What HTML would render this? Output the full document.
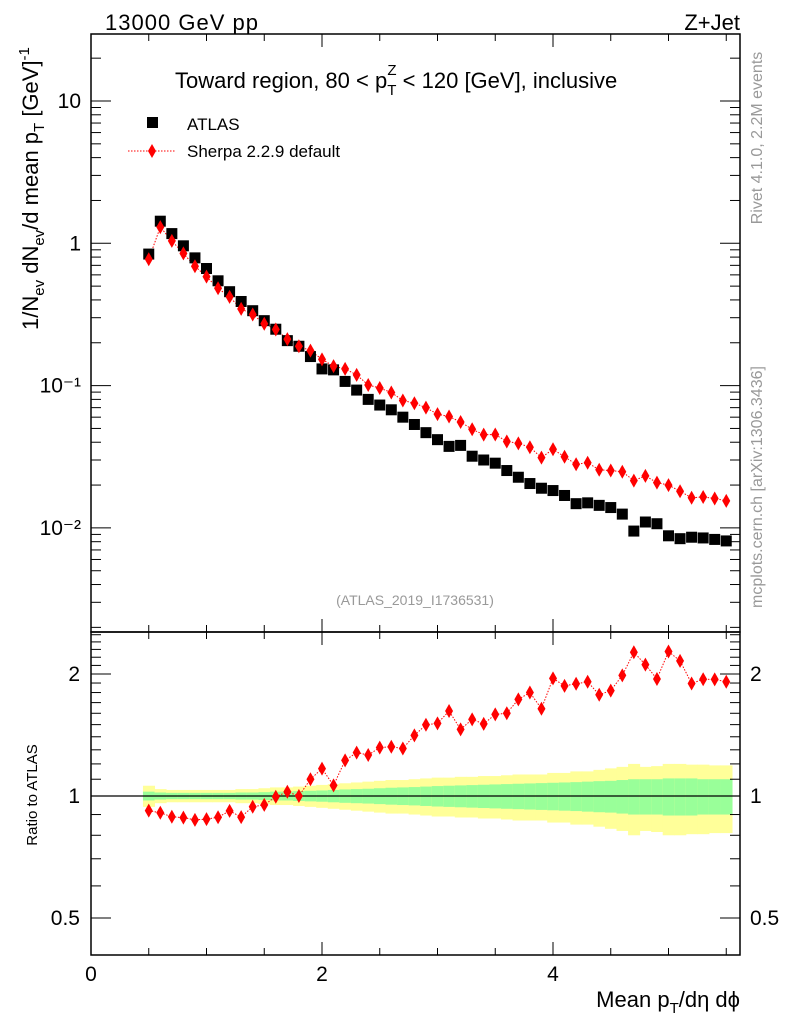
<!DOCTYPE html>
<html><head><meta charset="utf-8"><style>
html,body{margin:0;padding:0;background:#fff;}
svg{display:block;font-family:"Liberation Sans",sans-serif;}
</style></head><body>
<svg id="c" width="786" height="1024" viewBox="0 0 786 1024" xmlns="http://www.w3.org/2000/svg">
<g id="bands"></g>
<g id="marks"></g>
<g id="axes"></g>
<text x="105" y="30" font-size="22" textLength="153">13000 GeV pp</text>
<text x="740" y="30" font-size="22" text-anchor="end">Z+Jet</text>
<text x="175" y="88" font-size="22">Toward region, 80 &lt; p<tspan font-size="15" dy="7">T</tspan><tspan font-size="15" dx="-9" dy="-20">Z</tspan><tspan dy="13"> &lt; 120 [GeV], inclusive</tspan></text>
<g>
<rect x="147" y="117" width="11" height="11" fill="#000"/>
<text x="187" y="130" font-size="17">ATLAS</text>
<line x1="128" y1="151" x2="176" y2="151" stroke="red" stroke-dasharray="1.5,1.5"/>
<path d="M152,144 L156,151 L152,158 L148,151Z" fill="red"/>
<text x="187" y="157" font-size="17">Sherpa 2.2.9 default</text>
</g>
<text transform="translate(38,330) rotate(-90)" font-size="22">1/N<tspan font-size="15" dy="6">ev</tspan><tspan dy="-6"> dN</tspan><tspan font-size="15" dy="6">ev</tspan><tspan dy="-6">/d mean p</tspan><tspan font-size="15" dy="6">T</tspan><tspan dy="-6"> [GeV]</tspan><tspan font-size="15" dy="-9">-1</tspan></text>
<text transform="translate(37,795) rotate(-90)" font-size="15" text-anchor="middle">Ratio to ATLAS</text>
<text x="740" y="1007" font-size="22" text-anchor="end">Mean p<tspan font-size="15" dy="6">T</tspan><tspan dy="-6">/dη dϕ</tspan></text>
<text x="415" y="605" font-size="14" fill="#999" text-anchor="middle">(ATLAS_2019_I1736531)</text>
<text transform="translate(762,138) rotate(-90)" font-size="16" fill="#999" text-anchor="middle">Rivet 4.1.0,  2.2M events</text>
<text transform="translate(762,487) rotate(-90)" font-size="16" fill="#999" text-anchor="middle">mcplots.cern.ch [arXiv:1306.3436]</text>
</svg>
<script>
const xs = [0.5,0.6,0.7,0.8,0.9,1.0,1.1,1.2,1.3,1.4,1.5,1.6,1.7,1.8,1.9,2.0,2.1,2.2,2.3,2.4,2.5,2.6,2.7,2.8,2.9,3.0,3.1,3.2,3.3,3.4,3.5,3.6,3.7,3.8,3.9,4.0,4.1,4.2,4.3,4.4,4.5,4.6,4.7,4.8,4.9,5.0,5.1,5.2,5.3,5.4,5.5];
const atlas = [0.84,1.43,1.17,0.96,0.79,0.665,0.545,0.457,0.39,0.336,0.286,0.249,0.207,0.189,0.160,0.131,0.129,0.107,0.093,0.080,0.073,0.0676,0.060,0.0533,0.0467,0.0417,0.0374,0.038,0.0319,0.030,0.0285,0.0253,0.0227,0.0205,0.019,0.0183,0.0169,0.0148,0.0150,0.0144,0.0139,0.0125,0.0095,0.011,0.0107,0.0088,0.0084,0.0086,0.0085,0.0083,0.0081];
const sherpa = [0.773,1.30,1.04,0.849,0.690,0.583,0.483,0.420,0.346,0.316,0.272,0.248,0.212,0.189,0.176,0.153,0.137,0.131,0.119,0.101,0.0961,0.0894,0.0786,0.0752,0.0700,0.0630,0.0606,0.0555,0.0493,0.0452,0.0453,0.0405,0.0393,0.0369,0.0312,0.0357,0.0316,0.0280,0.0287,0.0256,0.0253,0.0248,0.0215,0.0232,0.0208,0.0200,0.0181,0.0163,0.0165,0.0161,0.0155];
const errTotal = [0.06,0.04,0.035,0.035,0.035,0.035,0.035,0.035,0.04,0.04,0.045,0.05,0.05,0.055,0.06,0.065,0.07,0.075,0.08,0.085,0.09,0.095,0.095,0.1,0.105,0.11,0.11,0.115,0.115,0.12,0.12,0.125,0.13,0.13,0.13,0.14,0.14,0.15,0.15,0.16,0.17,0.18,0.2,0.18,0.185,0.2,0.2,0.195,0.195,0.19,0.19];
const errStat = [0.025,0.02,0.018,0.018,0.018,0.018,0.018,0.018,0.02,0.02,0.022,0.025,0.025,0.028,0.03,0.032,0.035,0.038,0.04,0.042,0.045,0.048,0.05,0.052,0.055,0.058,0.06,0.062,0.064,0.066,0.068,0.07,0.072,0.074,0.076,0.078,0.08,0.082,0.085,0.088,0.09,0.095,0.1,0.1,0.1,0.105,0.105,0.105,0.1,0.1,0.1];
const mainTicks = [0.01,0.1,1,10];
const mainTickLabels = ["10\u207B\u00B2","10\u207B\u00B9","1","10"];
const ratioTicks = [0.5,1,2];
const ratioTickLabels = ["0.5","1","2"];
const xTicks = [0,2,4];
const xTickLabels = ["0","2","4"];

const NS="http://www.w3.org/2000/svg";
const L=91,R=740,MT=34,MB=632,RT=632,RB=955;
const X=v=>L+v*115.5;
const Y=v=>101-(Math.log10(v)-1)*142.3;
const YR=v=>796-Math.log2(v)*122;
function mk(parent,tag,attrs){const e=document.createElementNS(NS,tag);for(const k in attrs)e.setAttribute(k,attrs[k]);document.getElementById(parent).appendChild(e);return e;}

xs.forEach((x,i)=>{
  const x0=X(x-0.05),w=X(x+0.05)-x0;
  let e=mk('bands','rect',{x:x0,y:YR(1+errTotal[i]),width:w+0.5,height:YR(1-errTotal[i])-YR(1+errTotal[i]),fill:'#ffff99'});
  
  
  e=mk('bands','rect',{x:x0,y:YR(1+errStat[i]),width:w+0.5,height:YR(1-errStat[i])-YR(1+errStat[i]),fill:'#99ff99'});
  
  
});
let e=mk('marks','line',{x1:L,x2:R,y1:YR(1),y2:YR(1),stroke:'#000','stroke-width':1.2});



let p='',pr='';
xs.forEach((x,i)=>{p+=(i?'L':'M')+X(x)+','+Y(sherpa[i]);pr+=(i?'L':'M')+X(x)+','+YR(sherpa[i]/atlas[i]);});
e=mk('marks','path',{d:p,fill:'none',stroke:'red','stroke-dasharray':'1.5,1.5'});


e=mk('marks','path',{d:pr,fill:'none',stroke:'red','stroke-dasharray':'1.5,1.5'});



xs.forEach((x,i)=>{
  const cx=X(x),cy=Y(atlas[i]);
  let e=mk('marks','rect',{x:cx-5.5,y:cy-5.5,width:11,height:11,fill:'#000'});
  
  
  const sy=Y(sherpa[i]);
  e=mk('marks','path',{d:`M${cx},${sy-7}L${cx+4},${sy}L${cx},${sy+7}L${cx-4},${sy}Z`,fill:'red'});
  
  
  const ry=YR(sherpa[i]/atlas[i]);
  e=mk('marks','path',{d:`M${cx},${ry-7}L${cx+4},${ry}L${cx},${ry+7}L${cx-4},${ry}Z`,fill:'red'});
  
  
});

[[MT,MB],[RT,RB]].forEach(([t,b])=>{
  let e=mk('axes','rect',{x:L,y:t,width:R-L,height:b-t,fill:'none',stroke:'#000','stroke-width':1.5});
  
  
});
function tick(x1,y1,x2,y2){let e=mk('axes','line',{x1,y1,x2,y2,stroke:'#000','stroke-width':1});}
for(let v=0;v<=5.6;v+=0.5){
  const x=X(v),len=(Math.abs(v%2)<1e-6)?13:7;
  tick(x,MT,x,MT+len);tick(x,MB,x,MB-len);tick(x,RT,x,RT+len);tick(x,RB,x,RB-len);
}
xTicks.forEach((v,i)=>{let e=mk('axes','text',{x:X(v),y:981,'font-size':21,'text-anchor':'middle'});e.textContent=xTickLabels[i];});
for(let d=-3;d<=1;d++){for(let m=1;m<=9;m++){const v=m*Math.pow(10,d),y=Y(v);if(y<MT||y>MB)continue;const len=m==1?20:10;tick(L,y,L+len,y);tick(R,y,R-len,y);}}
mainTicks.forEach((v,i)=>{let e=mk('axes','text',{x:81,y:Y(v)+7,'font-size':21,'text-anchor':'end'});e.textContent=mainTickLabels[i];});
const rt=[0.5,0.6,0.7,0.8,0.9,1,1.1,1.2,1.3,1.4,1.5,1.6,1.7,1.8,1.9,2,2.1,2.2,2.3,2.4,2.5];
rt.forEach(v=>{const y=YR(v);const len=ratioTicks.includes(v)?20:10;tick(L,y,L+len,y);tick(R,y,R-len,y);});
ratioTicks.forEach((v,i)=>{
  let e=mk('axes','text',{x:80,y:YR(v)+7,'font-size':21,'text-anchor':'end'});e.textContent=ratioTickLabels[i];
  e=mk('axes','text',{x:750,y:YR(v)+7,'font-size':21});e.textContent=ratioTickLabels[i];
});
</script>
</body></html>
